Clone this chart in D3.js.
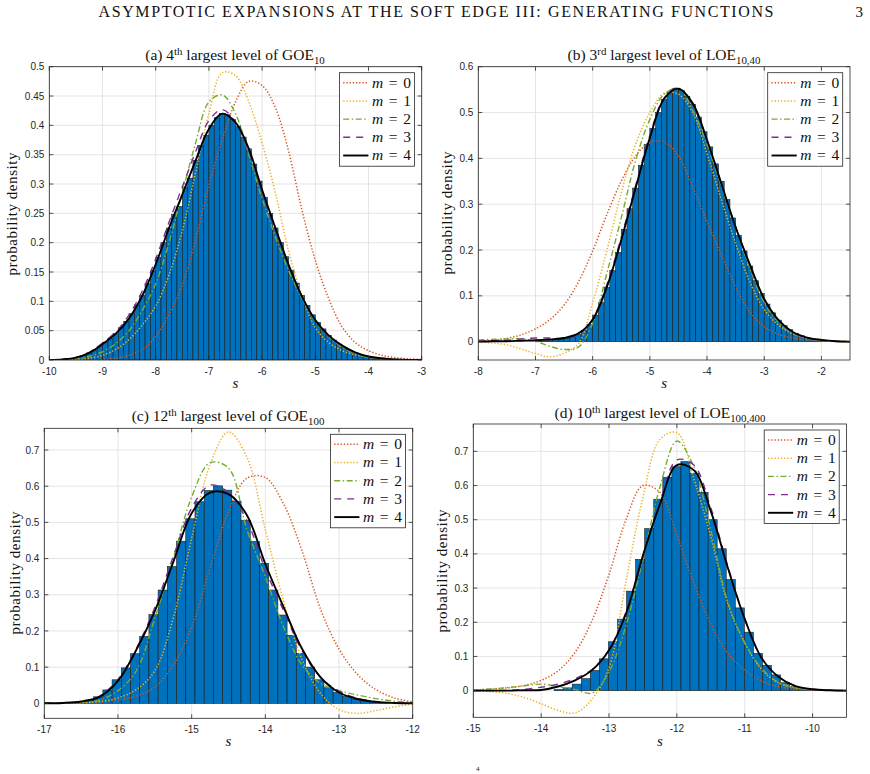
<!DOCTYPE html>
<html>
<head>
<meta charset="utf-8">
<script src="https://cdn.jsdelivr.net/npm/d3@7"></script>
<style>
  body { margin: 0; background: #fff; }
  text { white-space: pre; }
</style>
</head>
<body>
<div id="fig"></div>
<script>
// ---- data ----
const headerTitle = "ASYMPTOTIC EXPANSIONS AT THE SOFT EDGE III: GENERATING FUNCTIONS";
const pageNumber = "3";
const legendOrders = ["0", "1", "2", "3", "4"];

// (a) 4th largest level of GOE_10
const aTitle = [["(a) 4", "n"], ["th", "sup"], [" largest level of GOE", "n"], ["10", "sub"]];
const aXTicks = [-10, -9, -8, -7, -6, -5, -4, -3];
const aYTicks = [0, 0.05, 0.1, 0.15, 0.2, 0.25, 0.3, 0.35, 0.4, 0.45, 0.5];
const aS = [-10, -9.75, -9.5, -9.25, -9, -8.75, -8.5, -8.25, -8, -7.75, -7.5, -7.25, -7, -6.75, -6.5, -6.25, -6, -5.75, -5.5, -5.25, -5, -4.75, -4.5, -4.25, -4, -3.75, -3.5, -3.25, -3];
const aM0 = [0, 0, 0, 0, 0.001, 0.003, 0.008, 0.018, 0.04, 0.078, 0.128, 0.205, 0.298, 0.375, 0.44, 0.475, 0.468, 0.43, 0.355, 0.255, 0.17, 0.105, 0.057, 0.03, 0.016, 0.008, 0.004, 0.002, 0.001];
const aM1 = [0, 0, 0.001, 0.003, 0.008, 0.018, 0.035, 0.06, 0.092, 0.145, 0.22, 0.32, 0.42, 0.49, 0.485, 0.44, 0.37, 0.285, 0.185, 0.11, 0.055, 0.03, 0.016, 0.009, 0.005, 0.002, 0.001, 0, 0];
const aM2 = [0, 0.001, 0.002, 0.006, 0.014, 0.028, 0.05, 0.085, 0.13, 0.2, 0.285, 0.37, 0.44, 0.452, 0.42, 0.35, 0.275, 0.21, 0.152, 0.105, 0.066, 0.04, 0.022, 0.011, 0.005, 0.002, 0.001, 0, 0];
const aM3 = [0, 0.001, 0.004, 0.013, 0.029, 0.048, 0.077, 0.118, 0.172, 0.235, 0.295, 0.355, 0.408, 0.427, 0.405, 0.355, 0.285, 0.22, 0.16, 0.108, 0.068, 0.041, 0.024, 0.012, 0.006, 0.002, 0.001, 0, 0];
const aM4 = [0, 0.001, 0.004, 0.012, 0.027, 0.045, 0.071, 0.11, 0.163, 0.225, 0.282, 0.34, 0.394, 0.42, 0.405, 0.36, 0.29, 0.225, 0.162, 0.108, 0.068, 0.042, 0.025, 0.013, 0.006, 0.003, 0.001, 0, 0];
const aBinStart = -9.9, aBinWidth = 0.1;
const aBars = [0.001, 0.001, 0.002, 0.003, 0.005, 0.008, 0.012, 0.017, 0.023, 0.03, 0.037, 0.045, 0.055, 0.066, 0.079, 0.094, 0.11, 0.13, 0.152, 0.175, 0.2, 0.225, 0.248, 0.262, 0.295, 0.31, 0.34, 0.366, 0.383, 0.4, 0.413, 0.42, 0.418, 0.41, 0.398, 0.38, 0.36, 0.334, 0.305, 0.277, 0.25, 0.225, 0.2, 0.176, 0.153, 0.131, 0.11, 0.093, 0.077, 0.064, 0.053, 0.042, 0.034, 0.027, 0.021, 0.016, 0.012, 0.009, 0.007, 0.005, 0.003, 0.002, 0.001];

// (b) 3rd largest level of LOE_10,40
const bTitle = [["(b) 3", "n"], ["rd", "sup"], [" largest level of LOE", "n"], ["10,40", "sub"]];
const bXTicks = [-8, -7, -6, -5, -4, -3, -2];
const bYTicks = [0, 0.1, 0.2, 0.3, 0.4, 0.5, 0.6];
const bS = [-8, -7.75, -7.5, -7.25, -7, -6.75, -6.5, -6.25, -6, -5.75, -5.5, -5.25, -5, -4.75, -4.5, -4.25, -4, -3.75, -3.5, -3.25, -3, -2.75, -2.5, -2.25, -2, -1.75, -1.5];
const bM0 = [0.001, 0.003, 0.007, 0.015, 0.028, 0.048, 0.08, 0.13, 0.198, 0.278, 0.35, 0.405, 0.435, 0.436, 0.405, 0.338, 0.262, 0.19, 0.12, 0.065, 0.033, 0.016, 0.008, 0.004, 0.002, 0.001, 0];
const bM1 = [0, -0.003, -0.007, -0.016, -0.026, -0.033, -0.025, -0.005, 0.085, 0.2, 0.325, 0.43, 0.5, 0.542, 0.54, 0.5, 0.41, 0.31, 0.215, 0.13, 0.07, 0.036, 0.017, 0.008, 0.003, 0.001, 0];
const bM2 = [0.004, 0.005, 0.006, 0.006, 0.001, -0.01, -0.017, -0.012, 0.04, 0.15, 0.27, 0.395, 0.485, 0.54, 0.553, 0.505, 0.43, 0.34, 0.25, 0.16, 0.085, 0.042, 0.018, 0.008, 0.003, 0.001, 0];
const bM3 = [0.001, 0.002, 0.003, 0.006, 0.008, 0.008, 0.007, 0.015, 0.05, 0.125, 0.228, 0.34, 0.45, 0.532, 0.553, 0.515, 0.44, 0.345, 0.25, 0.166, 0.092, 0.046, 0.02, 0.008, 0.003, 0.001, 0];
const bM4 = [0, 0.001, 0.001, 0.002, 0.003, 0.005, 0.008, 0.018, 0.048, 0.12, 0.222, 0.335, 0.445, 0.53, 0.552, 0.52, 0.44, 0.345, 0.25, 0.168, 0.093, 0.047, 0.021, 0.009, 0.004, 0.001, 0];
const bBinStart = -7.0, bBinWidth = 0.1;
const bBars = [0.002, 0.002, 0.003, 0.004, 0.006, 0.008, 0.011, 0.016, 0.024, 0.037, 0.058, 0.085, 0.118, 0.155, 0.195, 0.245, 0.29, 0.335, 0.385, 0.43, 0.465, 0.5, 0.528, 0.545, 0.553, 0.548, 0.535, 0.518, 0.49, 0.458, 0.425, 0.388, 0.35, 0.31, 0.27, 0.232, 0.198, 0.165, 0.133, 0.105, 0.082, 0.063, 0.047, 0.035, 0.026, 0.018, 0.013, 0.009, 0.006, 0.004, 0.003];

// (c) 12th largest level of GOE_100
const cTitle = [["(c) 12", "n"], ["th", "sup"], [" largest level of GOE", "n"], ["100", "sub"]];
const cXTicks = [-17, -16, -15, -14, -13, -12];
const cYTicks = [0, 0.1, 0.2, 0.3, 0.4, 0.5, 0.6, 0.7];
const cS = [-17, -16.75, -16.5, -16.25, -16, -15.75, -15.5, -15.25, -15, -14.75, -14.5, -14.25, -14, -13.75, -13.5, -13.25, -13, -12.75, -12.5, -12.25, -12];
const cM0 = [0, 0, 0.001, 0.003, 0.009, 0.02, 0.045, 0.105, 0.21, 0.375, 0.53, 0.622, 0.624, 0.55, 0.42, 0.26, 0.15, 0.08, 0.038, 0.015, 0.004];
const cM1 = [0, 0.001, 0.002, 0.005, 0.015, 0.038, 0.09, 0.235, 0.456, 0.66, 0.75, 0.68, 0.48, 0.28, 0.12, 0.027, -0.017, -0.028, -0.02, -0.01, -0.002];
const cM2 = [0, 0.001, 0.003, 0.009, 0.035, 0.09, 0.235, 0.4, 0.57, 0.665, 0.65, 0.48, 0.35, 0.21, 0.105, 0.055, 0.035, 0.023, 0.013, 0.006, 0.002];
const cM3 = [0, 0.001, 0.005, 0.02, 0.066, 0.152, 0.265, 0.405, 0.54, 0.603, 0.582, 0.505, 0.37, 0.255, 0.145, 0.072, 0.034, 0.014, 0.005, 0.001, 0];
const cM4 = [0, 0.001, 0.005, 0.018, 0.062, 0.148, 0.255, 0.39, 0.525, 0.582, 0.578, 0.52, 0.385, 0.265, 0.15, 0.072, 0.03, 0.012, 0.004, 0.001, 0];
const cBinStart = -16.705, cBinWidth = 0.125;
const cBars = [0.002, 0.004, 0.009, 0.018, 0.037, 0.065, 0.098, 0.137, 0.185, 0.245, 0.313, 0.378, 0.448, 0.51, 0.557, 0.588, 0.601, 0.589, 0.558, 0.506, 0.447, 0.387, 0.313, 0.244, 0.188, 0.138, 0.1, 0.065, 0.043, 0.03, 0.019, 0.012, 0.007, 0.004, 0.002];

// (d) 10th largest level of LOE_100,400
const dTitle = [["(d) 10", "n"], ["th", "sup"], [" largest level of LOE", "n"], ["100,400", "sub"]];
const dXTicks = [-15, -14, -13, -12, -11, -10];
const dYTicks = [0, 0.1, 0.2, 0.3, 0.4, 0.5, 0.6, 0.7];
const dS = [-15, -14.75, -14.5, -14.25, -14, -13.75, -13.5, -13.25, -13, -12.75, -12.5, -12.25, -12, -11.75, -11.5, -11.25, -11, -10.75, -10.5, -10.25, -10, -9.75, -9.5];
const dM0 = [0.002, 0.004, 0.008, 0.015, 0.03, 0.058, 0.112, 0.205, 0.34, 0.5, 0.6, 0.58, 0.455, 0.315, 0.195, 0.11, 0.06, 0.028, 0.012, 0.005, 0.002, 0.001, 0];
const dM1 = [0, -0.003, -0.008, -0.02, -0.038, -0.058, -0.065, -0.025, 0.067, 0.32, 0.565, 0.735, 0.755, 0.62, 0.45, 0.255, 0.14, 0.062, 0.022, 0.008, 0.003, 0.001, 0];
const dM2 = [0.002, 0.005, 0.009, 0.014, 0.019, 0.012, 0.003, -0.007, 0.055, 0.19, 0.385, 0.595, 0.73, 0.655, 0.47, 0.26, 0.14, 0.065, 0.024, 0.009, 0.003, 0.001, 0];
const dM3 = [0, 0, 0.001, 0.004, 0.01, 0.019, 0.035, 0.062, 0.12, 0.23, 0.395, 0.55, 0.675, 0.66, 0.535, 0.365, 0.21, 0.095, 0.04, 0.013, 0.004, 0.001, 0];
const dM4 = [0, 0, 0, 0.001, 0.002, 0.012, 0.03, 0.06, 0.118, 0.225, 0.395, 0.545, 0.66, 0.645, 0.525, 0.36, 0.21, 0.095, 0.04, 0.013, 0.004, 0.001, 0];
const dBinStart = -13.809, dBinWidth = 0.1335;
const dBars = [0.003, 0.008, 0.019, 0.035, 0.059, 0.093, 0.143, 0.209, 0.291, 0.384, 0.474, 0.56, 0.624, 0.655, 0.67, 0.636, 0.58, 0.5, 0.415, 0.325, 0.242, 0.171, 0.109, 0.074, 0.046, 0.023, 0.012, 0.006, 0.003, 0.001];

// ---- styles ----
const W = 870, H = 774;
const serif = "'Liberation Serif', 'DejaVu Serif', serif";
const sans = "'Liberation Sans', Arial, sans-serif";
const axisGray = "#262626";
const barBlue = "#0072BD";
const curveStyles = [
  { color: "#D95319", width: 1.5, dash: "1.3,1.9" },
  { color: "#EDB120", width: 1.5, dash: "1.3,1.9" },
  { color: "#77AC30", width: 1.4, dash: "6,2.5,1.5,2.5" },
  { color: "#7E2F8E", width: 1.4, dash: "7,6" },
  { color: "#000000", width: 1.9, dash: null }
];

const panels = [
  { id: "a", left: 49.3, right: 421.7, top: 66.7, bottom: 360, xDom: [-10, -3], yDom: [0, 0.5],
    xTicks: aXTicks, yTicks: aYTicks, s: aS, curves: [aM0, aM1, aM2, aM3, aM4],
    binStart: aBinStart, binWidth: aBinWidth, bars: aBars, title: aTitle,
    titleX: 235, titleY: 60, xlabY: 388, ylabX: 17, ylabY: 214 },
  { id: "b", left: 478.3, right: 850, top: 66.7, bottom: 360, xDom: [-8, -1.5], yDom: [-0.04, 0.6],
    xTicks: bXTicks, yTicks: bYTicks, s: bS, curves: [bM0, bM1, bM2, bM3, bM4],
    binStart: bBinStart, binWidth: bBinWidth, bars: bBars, title: bTitle,
    titleX: 664, titleY: 60, xlabY: 388, ylabX: 452, ylabY: 213 },
  { id: "c", left: 44.3, right: 412.7, top: 428.3, bottom: 718.3, xDom: [-17, -12], yDom: [-0.0414, 0.76],
    xTicks: cXTicks, yTicks: cYTicks, s: cS, curves: [cM0, cM1, cM2, cM3, cM4],
    binStart: cBinStart, binWidth: cBinWidth, bars: cBars, title: cTitle,
    titleX: 228, titleY: 421, xlabY: 746, ylabX: 20, ylabY: 573 },
  { id: "d", left: 473.3, right: 846.5, top: 424, bottom: 717.3, xDom: [-15, -9.5], yDom: [-0.078, 0.78],
    xTicks: dXTicks, yTicks: dYTicks, s: dS, curves: [dM0, dM1, dM2, dM3, dM4],
    binStart: dBinStart, binWidth: dBinWidth, bars: dBars, title: dTitle,
    titleX: 660, titleY: 418, xlabY: 746, ylabX: 447, ylabY: 571 }
];

const svg = d3.select("#fig").append("svg")
  .attr("width", W)
  .attr("height", H)
  .attr("viewBox", `0 0 ${W} ${H}`)
  .style("display", "block");

const defs = svg.append("defs");

// running header
svg.append("text")
  .attr("x", 436).attr("y", 17)
  .attr("text-anchor", "middle")
  .attr("textLength", 675).attr("lengthAdjust", "spacing")
  .style("font-family", serif).style("font-size", "16px").style("fill", "#111")
  .text(headerTitle);

svg.append("text")
  .attr("x", 863).attr("y", 17)
  .attr("text-anchor", "end")
  .style("font-family", serif).style("font-size", "15px").style("fill", "#111")
  .text(pageNumber);

// sup/sub aware text
function richText(sel, parts) {
  let shift = 0;
  parts.forEach(([t, kind]) => {
    const target = kind === "sup" ? -5.5 : kind === "sub" ? 3.5 : 0;
    const ts = sel.append("tspan").attr("dy", target - shift).text(t);
    if (kind !== "n") ts.style("font-size", "70%");
    shift = target;
  });
}

function drawPanel(p) {
  const x = d3.scaleLinear().domain(p.xDom).range([p.left, p.right]);
  const y = d3.scaleLinear().domain(p.yDom).range([p.bottom, p.top]);
  const g = svg.append("g").attr("class", "panel-" + p.id);

  defs.append("clipPath").attr("id", "clip-" + p.id)
    .append("rect")
    .attr("x", p.left).attr("y", p.top)
    .attr("width", p.right - p.left).attr("height", p.bottom - p.top);

  // grid
  g.append("g").selectAll("line").data(p.xTicks).join("line")
    .attr("x1", d => x(d)).attr("x2", d => x(d))
    .attr("y1", p.top).attr("y2", p.bottom)
    .attr("stroke", "#dedede").attr("stroke-width", 0.8);
  g.append("g").selectAll("line").data(p.yTicks).join("line")
    .attr("x1", p.left).attr("x2", p.right)
    .attr("y1", d => y(d)).attr("y2", d => y(d))
    .attr("stroke", "#dedede").attr("stroke-width", 0.8);

  const plot = g.append("g").attr("clip-path", `url(#clip-${p.id})`);

  // histogram
  plot.append("g").selectAll("rect").data(p.bars).join("rect")
    .attr("x", (d, i) => x(p.binStart + i * p.binWidth))
    .attr("width", (d, i) => x(p.binStart + (i + 1) * p.binWidth) - x(p.binStart + i * p.binWidth))
    .attr("y", d => y(d))
    .attr("height", d => y(0) - y(d))
    .attr("fill", barBlue)
    .attr("stroke", "#1a1a1a")
    .attr("stroke-width", 0.6);

  // expansion curves m = 0..4
  const line = d3.line()
    .x(d => x(d[0])).y(d => y(d[1]))
    .curve(d3.curveCatmullRom.alpha(0.5));

  p.curves.forEach((vals, m) => {
    const st = curveStyles[m];
    plot.append("path")
      .datum(p.s.map((sv, i) => [sv, vals[i]]))
      .attr("d", line)
      .attr("fill", "none")
      .attr("stroke", st.color)
      .attr("stroke-width", st.width)
      .attr("stroke-dasharray", st.dash);
  });

  // box + inward ticks on all sides
  g.append("rect")
    .attr("x", p.left).attr("y", p.top)
    .attr("width", p.right - p.left).attr("height", p.bottom - p.top)
    .attr("fill", "none").attr("stroke", axisGray).attr("stroke-width", 0.8);

  const tl = 4;
  const ticks = g.append("g").attr("stroke", axisGray).attr("stroke-width", 0.8);
  p.xTicks.forEach(t => {
    ticks.append("line").attr("x1", x(t)).attr("x2", x(t)).attr("y1", p.bottom).attr("y2", p.bottom - tl);
    ticks.append("line").attr("x1", x(t)).attr("x2", x(t)).attr("y1", p.top).attr("y2", p.top + tl);
  });
  p.yTicks.forEach(t => {
    ticks.append("line").attr("x1", p.left).attr("x2", p.left + tl).attr("y1", y(t)).attr("y2", y(t));
    ticks.append("line").attr("x1", p.right).attr("x2", p.right - tl).attr("y1", y(t)).attr("y2", y(t));
  });

  // tick labels
  g.append("g").selectAll("text").data(p.xTicks).join("text")
    .attr("x", d => x(d)).attr("y", p.bottom + 14.5)
    .attr("text-anchor", "middle")
    .style("font-family", sans).style("font-size", "10px").style("fill", axisGray)
    .text(d => String(d));
  g.append("g").selectAll("text").data(p.yTicks).join("text")
    .attr("x", p.left - 5).attr("y", d => y(d) + 3.6)
    .attr("text-anchor", "end")
    .style("font-family", sans).style("font-size", "10px").style("fill", axisGray)
    .text(d => String(+d.toFixed(2)));

  // title
  const title = g.append("text")
    .attr("x", p.titleX).attr("y", p.titleY)
    .attr("text-anchor", "middle")
    .style("font-family", serif).style("font-size", "15.5px").style("fill", "#111");
  richText(title, p.title);

  // axis labels
  g.append("text")
    .attr("x", (p.left + p.right) / 2).attr("y", p.xlabY)
    .attr("text-anchor", "middle")
    .style("font-family", serif).style("font-style", "italic")
    .style("font-size", "15px").style("fill", "#111")
    .text("s");

  g.append("text")
    .attr("transform", `translate(${p.ylabX},${p.ylabY}) rotate(-90)`)
    .attr("text-anchor", "middle")
    .attr("textLength", 123).attr("lengthAdjust", "spacing")
    .style("font-family", serif).style("font-size", "15px").style("fill", "#111")
    .text("probability density");

  // legend
  const lw = 75, lh = 93.5;
  const lx = p.right - 7.3 - lw, ly = p.top + 6;
  const leg = g.append("g").attr("transform", `translate(${lx},${ly})`);
  leg.append("rect")
    .attr("width", lw).attr("height", lh)
    .attr("fill", "#fff").attr("stroke", axisGray).attr("stroke-width", 0.8);
  legendOrders.forEach((lab, i) => {
    const st = curveStyles[i];
    const ry = 10 + i * 18.2;
    leg.append("line")
      .attr("x1", 3.8).attr("x2", 29).attr("y1", ry).attr("y2", ry)
      .attr("stroke", st.color).attr("stroke-width", st.width)
      .attr("stroke-dasharray", st.dash);
    const t = leg.append("text")
      .attr("x", 32.5).attr("y", ry + 5)
      .attr("textLength", 39).attr("lengthAdjust", "spacing")
      .style("font-family", serif).style("font-size", "15.5px").style("fill", "#111");
    t.append("tspan").style("font-style", "italic").text("m");
    t.append("tspan").text(" = " + lab);
  });
}

panels.forEach(drawPanel);

// footnote marker fragment at the page bottom
svg.append("text")
  .attr("x", 476).attr("y", 771)
  .style("font-family", serif).style("font-size", "7px").style("fill", "#111")
  .text("4");
</script>
</body>
</html>
